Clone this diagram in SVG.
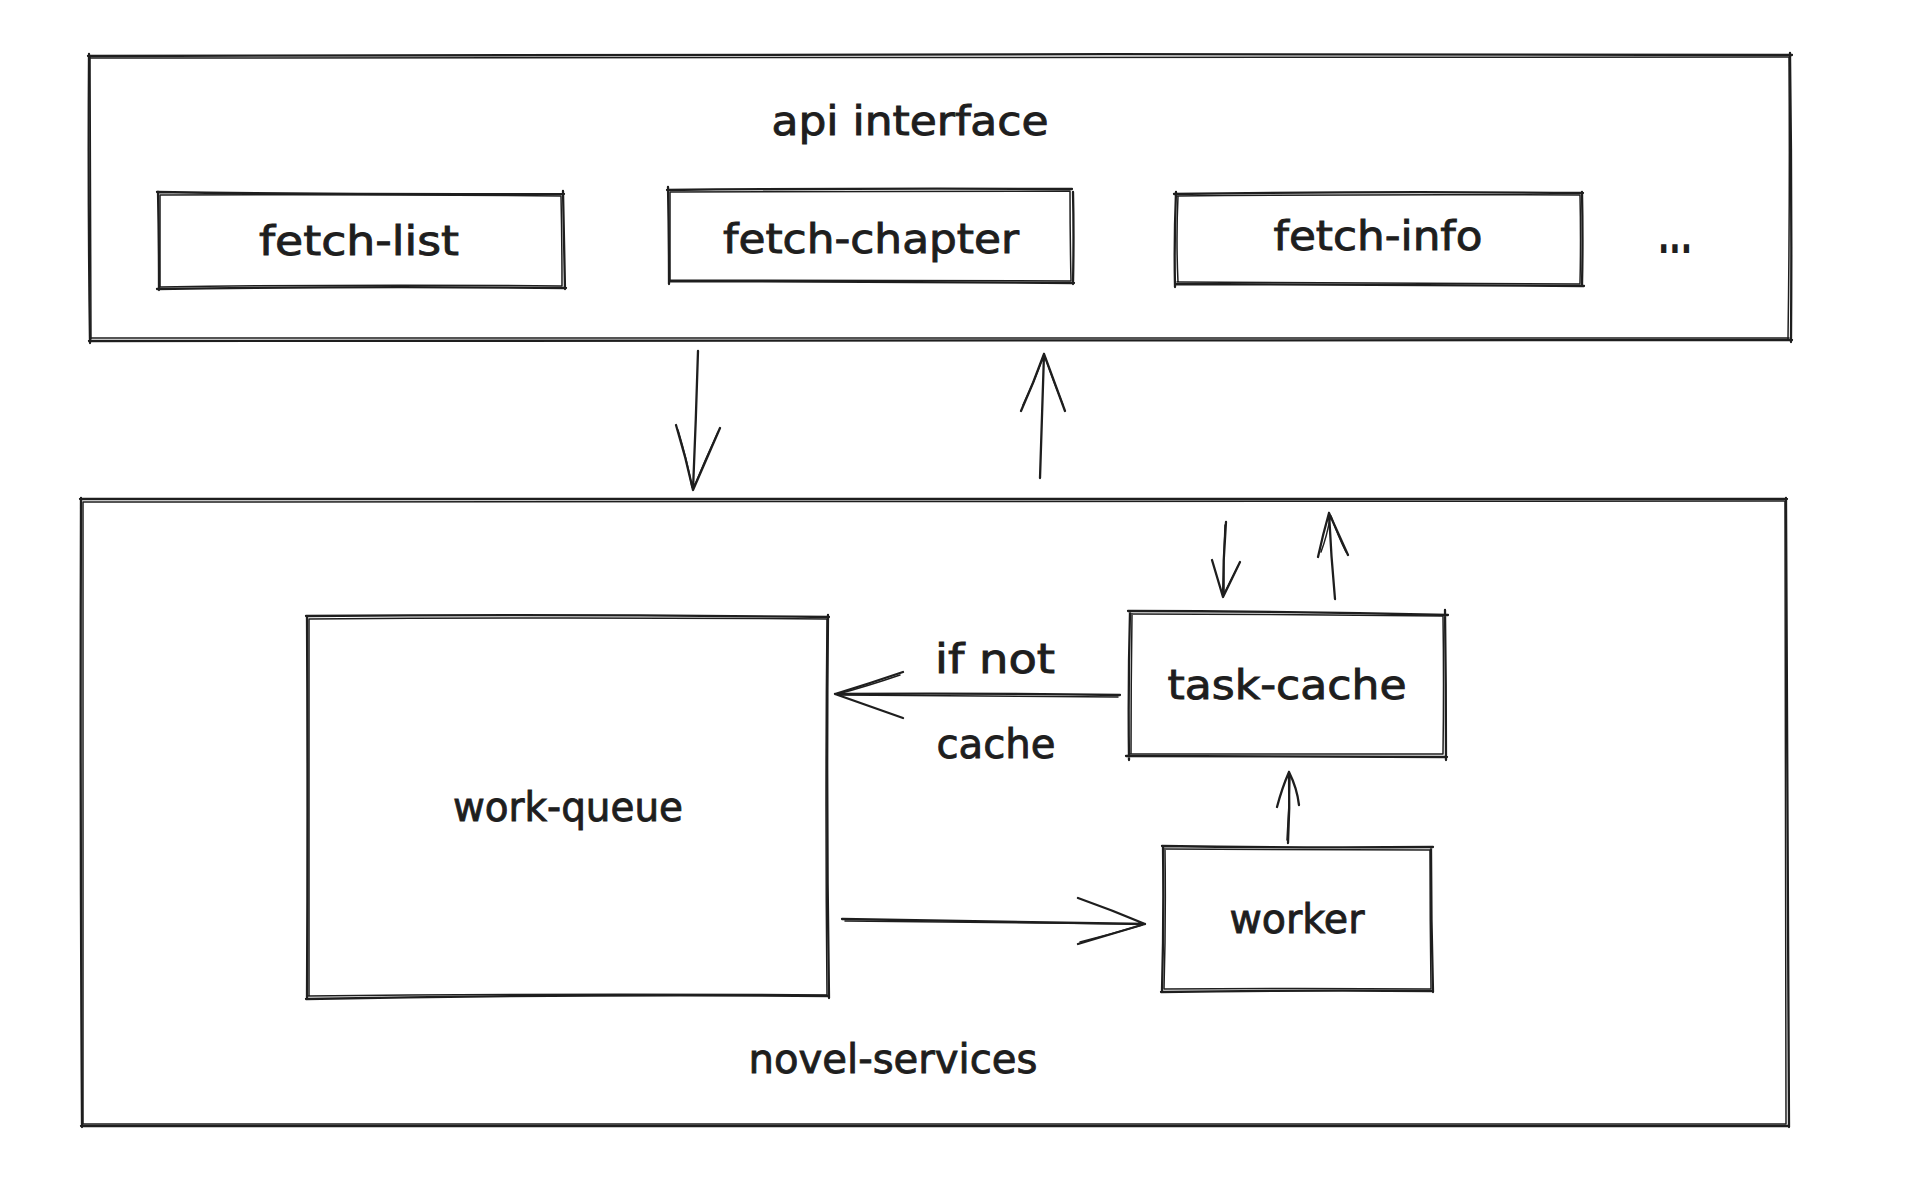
<svg xmlns="http://www.w3.org/2000/svg" width="1910" height="1200" viewBox="0 0 1910 1200">
<style>
.s{fill:none;stroke:#1e1e1e;stroke-width:2.3;stroke-linecap:round;stroke-linejoin:round}
.s2{fill:none;stroke:#1e1e1e;stroke-width:1.5;stroke-linecap:round;stroke-linejoin:round}
.t{font-family:"DejaVu Sans","Liberation Sans",sans-serif;font-size:40px;fill:#1e1e1e;stroke:#1e1e1e;stroke-width:0.9;text-anchor:middle}
.d{font-family:"DejaVu Sans","Liberation Sans",sans-serif;font-size:46px;font-weight:bold;fill:#1e1e1e}
</style>
<rect x="0" y="0" width="1910" height="1200" fill="#ffffff"/>
<g id="api-interface">
<path class="s" d="M88 56 Q940 53 1792 55 M1790 53 Q1792 200 1791 342 M1792 340 Q940 341 89 341 M90 343 Q88 200 89 54"/>
<path class="s2" d="M90 58 Q900 56 1789 57 M1789 58 Q1790 200 1788 339 M1789 338 Q900 339 91 338 M91 339 Q91 200 90 57"/>
<text class="t" x="910" y="135" textLength="277" lengthAdjust="spacingAndGlyphs">api interface</text>
</g>
<g id="fetch-list">
<path class="s" d="M157 192 Q360 195 564 194 M563 191 Q564 240 565 289 M566 288 Q360 286 157 289 M159 290 Q159 240 158 192"/>
<path class="s2" d="M160 195 Q360 194 561 196 M561 196 Q562 240 562 286 M561 286 Q360 284 160 287 M160 287 Q160 240 160 195"/>
<text class="t" x="359" y="255" textLength="200" lengthAdjust="spacingAndGlyphs">fetch-list</text>
</g>
<g id="fetch-chapter">
<path class="s" d="M667 190 Q870 188 1072 189 M1073 192 Q1074 236 1073 284 M1074 283 Q870 282 669 281 M669 284 Q669 236 668 187"/>
<path class="s2" d="M670 192 Q870 191 1070 191 M1070 191 Q1070 236 1071 281 M1071 281 Q870 280 670 280 M670 280 Q670 236 670 192"/>
<text class="t" x="871" y="253" textLength="296" lengthAdjust="spacingAndGlyphs">fetch-chapter</text>
</g>
<g id="fetch-info">
<path class="s" d="M1174 194 Q1378 191 1583 193 M1582 192 Q1583 240 1582 286 M1584 286 Q1378 285 1176 284 M1175 287 Q1174 240 1176 192"/>
<path class="s2" d="M1177 196 Q1378 194 1580 195 M1580 195 Q1581 240 1580 283 M1580 284 Q1378 283 1177 282 M1178 282 Q1176 240 1178 196"/>
<text class="t" x="1378" y="250" textLength="209" lengthAdjust="spacingAndGlyphs">fetch-info</text>
</g>
<g id="ellipsis">
<text class="d" x="1658" y="253" textLength="34" lengthAdjust="spacingAndGlyphs">...</text>
</g>
<g id="novel-services">
<path class="s" d="M80 499 Q930 501 1787 499 M1786 498 Q1788 810 1789 1127 M1788 1126 Q930 1127 81 1126 M82 1127 Q80 810 81 498"/>
<path class="s2" d="M83 502 Q930 503 1784 501 M1785 501 Q1786 810 1786 1124 M1786 1124 Q930 1124 83 1124 M83 1124 Q82 810 83 502"/>
<text class="t" x="893" y="1073" textLength="289" lengthAdjust="spacingAndGlyphs">novel-services</text>
</g>
<g id="work-queue">
<path class="s" d="M306 616 Q568 614 829 617 M828 615 Q826 806 829 998 M829 996 Q568 994 306 999 M307 998 Q308 806 307 617"/>
<path class="s2" d="M309 619 Q568 617 827 619 M827 619 Q825 806 827 995 M827 995 Q568 993 308 996 M309 996 Q309 806 309 619"/>
<text class="t" x="568" y="821" textLength="230" lengthAdjust="spacingAndGlyphs">work-queue</text>
</g>
<g id="task-cache">
<path class="s" d="M1128 611 Q1287 611 1448 615 M1445 610 Q1446 684 1446 760 M1447 757 Q1287 756 1126 756 M1129 760 Q1128 684 1130 612"/>
<path class="s2" d="M1131 614 Q1287 614 1443 616 M1443 616 Q1444 684 1443 754 M1443 754 Q1287 754 1130 754 M1131 754 Q1131 684 1132 614"/>
<text class="t" x="1287" y="699" textLength="239" lengthAdjust="spacingAndGlyphs">task-cache</text>
</g>
<g id="worker">
<path class="s" d="M1162 846 Q1297 848 1433 847 M1431 849 Q1431 920 1433 992 M1433 991 Q1297 990 1161 992 M1162 991 Q1164 920 1163 847"/>
<path class="s2" d="M1164 849 Q1297 850 1430 850 M1430 850 Q1430 920 1431 989 M1431 989 Q1297 988 1164 989 M1164 989 Q1166 920 1165 850"/>
<text class="t" x="1297" y="933" textLength="135" lengthAdjust="spacingAndGlyphs">worker</text>
</g>
<g id="connectors">
<path class="s" d="M698 351 Q696 420 693 490 M676 425 Q686 458 693 490 L720 428"/>
<path class="s2" d="M678 430 Q687 460 692 487 M718 432 Q705 460 694 487"/>
<path class="s" d="M1040 478 Q1042 416 1044 354 M1021 411 Q1034 382 1044 354 L1065 411"/>
<path class="s2" d="M1023 405 Q1035 380 1043 357 M1063 405 Q1053 380 1045 357"/>
<path class="s" d="M1226 522 Q1223 560 1223 597 M1212 560 Q1218 580 1223 597 L1240 562"/>
<path class="s2" d="M1225 525 Q1223 560 1224 594 M1238 566 Q1230 582 1224 594"/>
<path class="s" d="M1335 599 Q1331 556 1329 513 M1318 557 Q1323 534 1329 513 L1348 555"/>
<path class="s2" d="M1330 518 Q1327 536 1321 552 M1331 516 Q1338 536 1346 552"/>
<path class="s" d="M1120 695 Q978 693 835 694 M903 672 Q868 684 835 694 L903 718"/>
<path class="s2" d="M1118 697 Q978 696 838 695 M900 675 Q868 686 838 694"/>
<path class="s" d="M842 919 Q995 921 1145 924 M1078 898 Q1112 910 1145 924 L1078 944"/>
<path class="s2" d="M845 921 Q995 923 1142 924 M1080 942 Q1112 934 1142 925"/>
<path class="s" d="M1288 843 Q1290 808 1289 772 M1277 807 Q1282 788 1289 772 Q1297 788 1299 805"/>
<path class="s2" d="M1287 840 Q1289 808 1290 775"/>
<text class="t" x="995" y="673" textLength="120" lengthAdjust="spacingAndGlyphs">if not</text>
<text class="t" x="996" y="758" textLength="119" lengthAdjust="spacingAndGlyphs">cache</text>
</g>
</svg>
